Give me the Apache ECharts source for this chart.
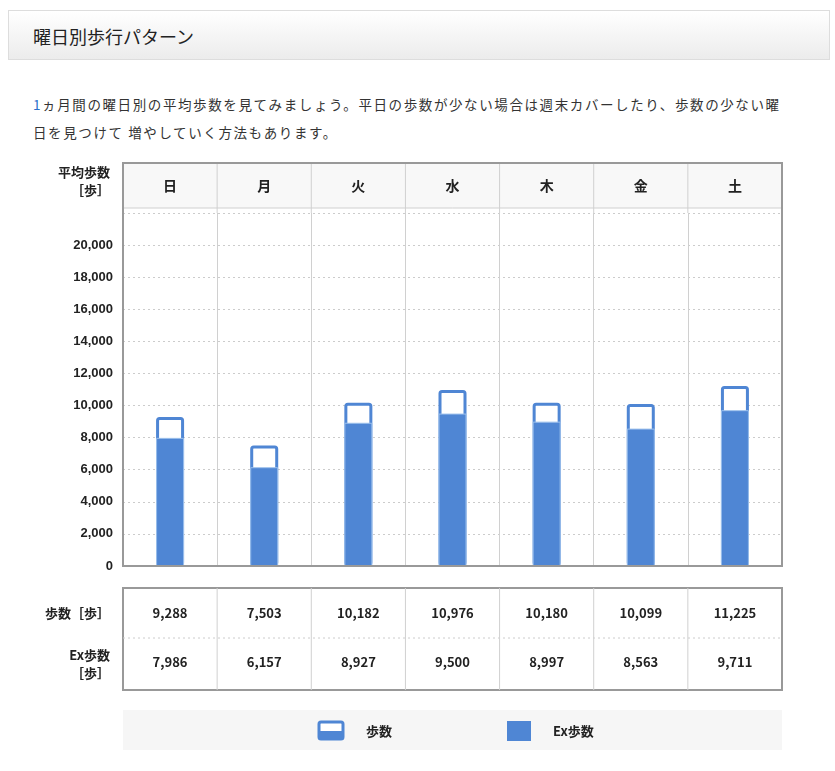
<!DOCTYPE html>
<html><head><meta charset="utf-8">
<script src="https://cdn.jsdelivr.net/npm/echarts@6/dist/echarts.min.js"></script>
<style>
body{margin:0;background:#fff;font-family:"Noto Sans CJK JP",sans-serif}
#title{position:absolute;left:8px;top:10px;width:820px;height:48px;border:1px solid #ddd;background:linear-gradient(#fff,#ececec);}
#title span{position:absolute;left:24px;top:12px;font-size:18px;color:#222}
#desc{position:absolute;left:33px;top:90px;font-size:13.5px;color:#333;line-height:28px;letter-spacing:1.6px}
#chart{position:absolute;left:0;top:150px;width:835px;height:621px}
</style></head><body>
<div id="title"><span>曜日別歩行パターン</span></div>
<div id="desc"><span style="color:#2a6fc9">1</span>ヵ月間の曜日別の平均歩数を見てみましょう。平日の歩数が少ない場合は週末カバーしたり、歩数の少ない曜<br>日を見つけて 増やしていく方法もあります。</div>
<div id="chart"></div>
<script>
const days = ['日', '月', '火', '水', '木', '金', '土']
const steps = [9288, 7503, 10182, 10976, 10180, 10099, 11225]
const exSteps = [7986, 6157, 8927, 9500, 8997, 8563, 9711]

const chart = echarts.init(document.getElementById('chart'))
const L = 123, R = 782, gTop = 63, gBot = 416
const fmt = v => v.toLocaleString('en-US')
chart.setOption({
  animation: false,
  grid: { left: L, right: 835 - R, top: gTop, height: gBot - gTop },
  xAxis: {
    type: 'category', data: days,
    axisLine: { show: false }, axisTick: { show: false }, axisLabel: { show: false },
    splitLine: { show: true, lineStyle: { color: '#d0d0d0' } }
  },
  yAxis: {
    type: 'value', min: 0, max: 22000, interval: 2000,
    axisLabel: { formatter: v => v > 20000 ? '' : fmt(v), color: '#222', fontSize: 13, fontWeight: 'bold', margin: 10 },
    splitLine: { lineStyle: { color: '#ccc', type: [2, 3] } }
  },
  series: [
    { type: 'bar', data: steps, barWidth: 28, z: 2,
      itemStyle: { color: '#fff', borderColor: '#4f86d4', borderWidth: 3, borderRadius: 2 } },
    { type: 'bar', data: exSteps, barWidth: 28, barGap: '-100%', z: 3,
      itemStyle: { color: '#4f86d4', borderColor: '#9cc0ec', borderWidth: 1 } }
  ]
})

const colW = (R - L) / days.length
const g = []
const txt = (x, y, s, o) => g.push(Object.assign({ type: 'text', x, y, style: Object.assign({ text: s, fill: '#222', font: 'bold 13px "Noto Sans CJK JP"', align: 'center', verticalAlign: 'middle' }, o || {}) }))
// hide the 22,000 gridline under a white strip
g.push({ type: 'rect', shape: { x: L + 1, y: 58, width: R - L - 2, height: 5 }, style: { fill: '#fff' }, z: 5 })
// header row
g.push({ type: 'rect', shape: { x: L, y: 13, width: R - L, height: 45 }, style: { fill: '#f8f8f8', stroke: '#d0d0d0' }, z: 6 })
// frame
g.push({ type: 'rect', shape: { x: L, y: 13, width: R - L, height: gBot - 13 }, style: { fill: 'none', stroke: '#999', lineWidth: 2 }, z: 10 })
txt(110, 22, '平均歩数', { align: 'right' })
txt(110, 40, '［歩］', { align: 'right' })
// table
const tTop = 438, tMid = 488, tBot = 540
g.push({ type: 'rect', shape: { x: L, y: tTop, width: R - L, height: tBot - tTop }, style: { fill: '#fff', stroke: '#999', lineWidth: 2 } })
g.push({ type: 'line', shape: { x1: L, y1: tMid, x2: R, y2: tMid }, style: { stroke: '#ccc', lineDash: [2, 3] } })
txt(110, 463, '歩数［歩］', { align: 'right' })
txt(110, 505, 'Ex歩数', { align: 'right' })
txt(110, 523, '［歩］', { align: 'right' })
days.forEach((d, i) => {
  const cx = chart.convertToPixel({ xAxisIndex: 0 }, d)
  if (i > 0) {
    g.push({ type: 'line', shape: { x1: L + colW * i, y1: 13, x2: L + colW * i, y2: 63 }, style: { stroke: '#d0d0d0' }, z: 7 })
    g.push({ type: 'line', shape: { x1: L + colW * i, y1: tTop, x2: L + colW * i, y2: tBot }, style: { stroke: '#d0d0d0' } })
  }
  txt(cx, 36, d, { font: 'bold 14px "Noto Sans CJK JP"' })
  txt(cx, 463, fmt(steps[i]))
  txt(cx, 512, fmt(exSteps[i]))
})
// legend
g.push({ type: 'rect', shape: { x: L, y: 560, width: R - L, height: 40 }, style: { fill: '#f6f6f6' } })
g.push({ type: 'rect', shape: { x: 319, y: 572, width: 24, height: 17, r: 2 }, style: { fill: '#fff', stroke: '#4f86d4', lineWidth: 3 } })
g.push({ type: 'rect', shape: { x: 319, y: 581, width: 24, height: 9 }, style: { fill: '#4f86d4' } })
txt(366, 581, '歩数', { align: 'left' })
g.push({ type: 'rect', shape: { x: 507, y: 571, width: 24, height: 20 }, style: { fill: '#4f86d4' } })
txt(553, 581, 'Ex歩数', { align: 'left' })
chart.setOption({ graphic: g.map((e, i) => Object.assign({ z: 8 }, e)) })
</script>
</body></html>
